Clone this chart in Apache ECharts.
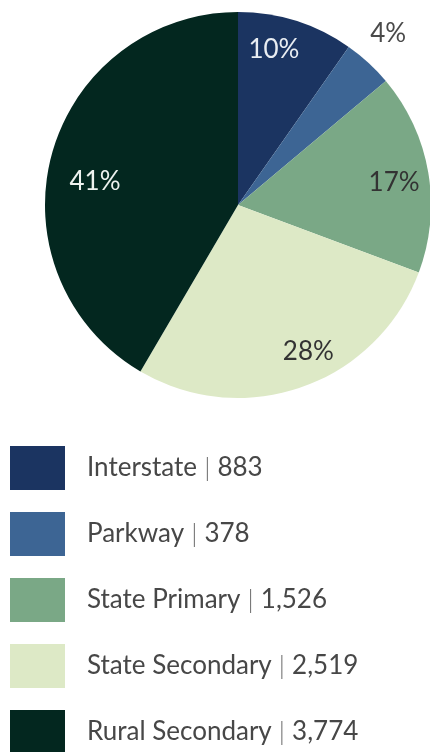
<!DOCTYPE html>
<html>
<head>
<meta charset="utf-8">
<script src="https://cdn.jsdelivr.net/npm/echarts@6/dist/echarts.min.js"></script>
<style>
  html, body { margin: 0; padding: 0; background: #ffffff; }
  #chart { width: 430px; height: 752px; }
</style>
</head>
<body>
<div id="chart"></div>
<script>
// Road miles by system
const categories = ['Interstate', 'Parkway', 'State Primary', 'State Secondary', 'Rural Secondary'];
const miles = [883, 378, 1526, 2519, 3774];
const colors = ['#1b3461', '#3d6594', '#7aa886', '#dde9c6', '#03271f'];
const labelColors = ['#e9edf2', '#4a4a4a', '#333333', '#333333', '#eef2ef'];
// Nudges that move each percentage label from the slice's mid-radius
const labelOffsets = [[6, -60], [83, -98], [58, -6], [37, 53], [-47, 3]];

const FONT = 'Lato, "Open Sans", sans-serif';

const chart = echarts.init(document.getElementById('chart'), null, { renderer: 'canvas' });

const data = categories.map((name, i) => ({
  name: name,
  value: miles[i],
  itemStyle: { color: colors[i] },
  label: { color: labelColors[i], offset: labelOffsets[i] }
}));

chart.setOption({
  animation: false,
  backgroundColor: '#ffffff',
  legend: {
    orient: 'vertical',
    left: 10,
    top: 446,
    height: 320,
    padding: 0,
    icon: 'rect',
    itemWidth: 55,
    itemHeight: 44,
    itemGap: 22,
    selectedMode: false,
    data: categories,
    formatter: function (name) {
      const i = categories.indexOf(name);
      return '{n|' + name + '}{s| | }{n|' + miles[i].toLocaleString('en-US') + '}';
    },
    textStyle: {
      fontFamily: FONT,
      fontSize: 26,
      color: '#474747',
      padding: [0, 0, 0, 17],
      rich: {
        n: { fontFamily: FONT, fontSize: 26, color: '#474747' },
        s: { fontFamily: FONT, fontSize: 26, fontWeight: 300, color: '#6a6a6a' }
      }
    }
  },
  series: [{
    type: 'pie',
    center: [238, 205],
    radius: [0, 193],
    startAngle: 90,
    clockwise: true,
    avoidLabelOverlap: false,
    silent: true,
    percentPrecision: 0,
    label: {
      show: true,
      position: 'inside',
      formatter: '{d}%',
      fontFamily: FONT,
      fontSize: 26,
      fontWeight: 400
    },
    labelLine: { show: false },
    itemStyle: { borderWidth: 0 },
    data: data
  }]
});
</script>
</body>
</html>
